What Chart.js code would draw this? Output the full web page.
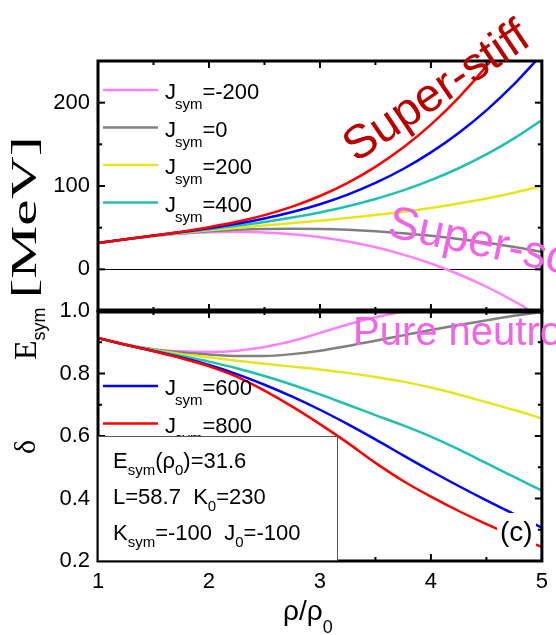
<!DOCTYPE html>
<html>
<head>
<meta charset="utf-8">
<script src="https://cdn.jsdelivr.net/npm/chart.js@4.4.0/dist/chart.umd.min.js"></script>
<style>
  html, body { margin: 0; padding: 0; background: #fff; }
</style>
</head>
<body>
<canvas id="chart" width="556" height="635"></canvas>
<script>
const SANS = '"Liberation Sans", Arial, sans-serif';
const SERIF = '"Liberation Serif", "Times New Roman", serif';

// density in units of rho_0
const rho = [1, 1.25, 1.5, 1.75, 2, 2.25, 2.5, 2.75, 3, 3.25, 3.5, 3.75, 4, 4.25, 4.5, 4.75, 5];

const jsym = [-200, 0, 200, 400, 600, 800];
const lineColors = ['#ff80ff', '#808080', '#e6e61e', '#20c0b0', '#0000ff', '#ff0000'];

// symmetry energy [MeV]
const esymJm200 = [31.6, 36.1, 39.8, 42.6, 44.4, 45.0, 44.3, 42.2, 38.6, 33.4, 26.5, 17.7, 7.0, -5.9, -20.9, -38.3, -58.0];
const esymJ0    = [31.6, 36.1, 40.0, 43.2, 45.6, 47.4, 48.5, 48.8, 48.5, 47.5, 45.8, 43.4, 40.3, 36.5, 32.0, 26.9, 21.0];
const esymJ200  = [31.6, 36.2, 40.1, 43.7, 46.9, 49.8, 52.6, 55.5, 58.4, 61.6, 65.1, 69.1, 73.6, 78.9, 85.0, 92.0, 100.0];
const esymJ400  = [31.6, 36.2, 40.3, 44.2, 48.1, 52.2, 56.8, 62.1, 68.3, 75.6, 84.4, 94.7, 107.0, 121.3, 137.9, 157.1, 179.0];
const esymJ600  = [31.6, 36.2, 40.5, 44.7, 49.3, 54.6, 61.0, 68.7, 78.1, 89.7, 103.7, 120.4, 140.3, 163.6, 190.8, 222.2, 258.0];
const esymJ800  = [31.6, 36.2, 40.6, 45.2, 50.6, 57.0, 65.1, 75.3, 88.0, 103.8, 123.0, 146.1, 173.6, 206.0, 243.8, 287.3, 337.0];

// isospin asymmetry delta
const deltaJm200 = [0.914, 0.893, 0.878, 0.871, 0.869, 0.873, 0.885, 0.904, 0.930, 0.957, 0.980, 0.997, 1.0, 1.0, 1.0, 1.0, 1.0];
const deltaJ0    = [0.914, 0.893, 0.877, 0.867, 0.861, 0.856, 0.856, 0.862, 0.873, 0.888, 0.905, 0.922, 0.939, 0.955, 0.970, 0.985, 0.997];
const deltaJ200  = [0.914, 0.892, 0.875, 0.862, 0.852, 0.841, 0.831, 0.822, 0.813, 0.802, 0.789, 0.774, 0.755, 0.733, 0.708, 0.683, 0.656];
const deltaJ400  = [0.914, 0.892, 0.874, 0.856, 0.838, 0.817, 0.792, 0.764, 0.733, 0.700, 0.667, 0.634, 0.598, 0.557, 0.513, 0.469, 0.425];
const deltaJ600  = [0.914, 0.892, 0.872, 0.851, 0.827, 0.798, 0.764, 0.726, 0.684, 0.638, 0.589, 0.538, 0.488, 0.440, 0.394, 0.350, 0.307];
const deltaJ800  = [0.914, 0.892, 0.871, 0.849, 0.823, 0.790, 0.745, 0.694, 0.638, 0.578, 0.514, 0.456, 0.406, 0.360, 0.318, 0.280, 0.245];

const esymSets = [esymJm200, esymJ0, esymJ200, esymJ400, esymJ600, esymJ800];
const deltaSets = [deltaJm200, deltaJ0, deltaJ200, deltaJ400, deltaJ600, deltaJ800];

function series(vals) {
  return rho.map((r, i) => ({x: r, y: vals[i]}));
}

function curve(vals, k, axis) {
  return {
    label: 'Jsym=' + jsym[k],
    data: series(vals),
    yAxisID: axis,
    borderColor: lineColors[k],
    borderWidth: 2.5,
    pointRadius: 0,
    cubicInterpolationMode: 'monotone',
    fill: false,
    order: jsym.length - k   // higher J drawn on top
  };
}

const datasets = [];
esymSets.forEach((v, k) => datasets.push(curve(v, k, 'yE')));
deltaSets.forEach((v, k) => datasets.push(curve(v, k, 'yD')));

// text with subscripts: parts = [text, font, dy]
function runText(ctx, parts, x, y) {
  let cx = x;
  for (const [t, f, dy] of parts) {
    ctx.font = f;
    ctx.fillText(t, cx, y + (dy || 0));
    cx += ctx.measureText(t).width;
  }
  return cx;
}

function seg(ctx, x1, y1, x2, y2) {
  ctx.beginPath();
  ctx.moveTo(x1, y1);
  ctx.lineTo(x2, y2);
  ctx.stroke();
}

const F22 = '22px ' + SANS;
const F15 = '15px ' + SANS;

const decor = {
  id: 'decor',
  afterDatasetsDraw(chart) {
    const {ctx, scales: {x, yE, yD}} = chart;
    ctx.save();
    ctx.strokeStyle = '#000';

    // panel frames
    ctx.lineWidth = 3;
    for (const s of [yE, yD]) {
      ctx.strokeRect(x.left, s.top, x.right - x.left, s.bottom - s.top);
    }
    ctx.lineWidth = 5;
    seg(ctx, x.left - 1, yD.top, x.right + 1, yD.top);

    // inward tick marks
    ctx.lineWidth = 2;
    for (const s of [yE, yD]) {
      for (const t of s.ticks) {
        const p = s.getPixelForValue(t.value);
        const len = t.label !== '' ? 7 : 4;
        seg(ctx, x.left, p, x.left + len, p);
        seg(ctx, x.right, p, x.right - len, p);
      }
      for (const t of x.ticks) {
        const p = x.getPixelForValue(t.value);
        const len = t.label !== '' ? 7 : 4;
        seg(ctx, p, s.top, p, s.top + len);
        seg(ctx, p, s.bottom, p, s.bottom - len);
      }
    }
    ctx.restore();
  },
  afterDraw(chart) {
    const {ctx, chartArea, scales: {yE, yD}} = chart;
    const L = chartArea.left;
    ctx.save();
    ctx.fillStyle = '#000';
    ctx.textBaseline = 'alphabetic';
    ctx.textAlign = 'left';

    // legends
    const legendRow = (k, ly) => {
      ctx.strokeStyle = lineColors[k];
      ctx.lineWidth = 2.5;
      seg(ctx, L + 5, ly, L + 60, ly);
      ctx.fillStyle = '#000';
      const cx = runText(ctx, [['J', F22, 0]], L + 67, ly + 9);
      ctx.font = F15;
      ctx.fillText('sym', cx - 1, ly + 19);
      ctx.font = F22;
      ctx.fillText('=' + jsym[k], cx + ctx.measureText('sym').width * 0.68 - 1, ly + 9);
    };
    [0, 1, 2, 3].forEach((k, i) => legendRow(k, yE.top + 29 + i * 37.5));
    [4, 5].forEach((k, i) => legendRow(k, yD.top + 75 + i * 37.5));

    // parameter box
    const bx = L, by = yD.getPixelForValue(0.6), bw = 239, bh = yD.bottom - by;
    ctx.fillStyle = '#fff';
    ctx.fillRect(bx, by, bw, bh);
    ctx.strokeStyle = '#555';
    ctx.lineWidth = 1;
    ctx.strokeRect(bx + 0.5, by + 0.5, bw, bh - 1);
    ctx.fillStyle = '#000';
    const F = '22px ' + SANS, S = '15px ' + SANS;
    runText(ctx, [['E', F], ['sym', S, 7], ['(ρ', F], ['0', S, 7], [')=31.6', F]], bx + 15, by + 32);
    runText(ctx, [['L=58.7  K', F], ['0', S, 7], ['=230', F]], bx + 15, by + 68);
    runText(ctx, [['K', F], ['sym', S, 7], ['=-100  J', F], ['0', S, 7], ['=-100', F]], bx + 15, by + 104);

    // panel tag
    ctx.fillStyle = '#fff';
    ctx.fillRect(497, 513, 39, 37);
    ctx.fillStyle = '#000';
    ctx.font = '28px ' + SANS;
    ctx.fillText('(c)', 500, 541);

    // axis titles: E_sym then a widened [MeV]
    ctx.save();
    ctx.translate(36, 360);
    ctx.rotate(-Math.PI / 2);
    const after = runText(ctx, [['E', '32px ' + SERIF], ['sym', '18px ' + SANS, 9]], 0, 0);
    ctx.font = '36px ' + SERIF;
    const unitW = ctx.measureText('[MeV]').width;
    ctx.translate(after + 9, 0);
    ctx.scale(162 / unitW, 1);
    ctx.fillText('[MeV]', 0, 0);
    ctx.restore();

    ctx.save();
    ctx.translate(35, 447);
    ctx.rotate(-Math.PI / 2);
    ctx.textAlign = 'center';
    ctx.font = '30px ' + SERIF;
    ctx.fillText('δ', 0, 0);
    ctx.restore();

    runText(ctx, [['ρ/ρ', '28px ' + SANS], ['0', '18px ' + SANS, 13]], 283, 620);

    // regime labels
    ctx.save();
    ctx.fillStyle = '#b80000';
    ctx.font = '47px ' + SANS;
    ctx.translate(356, 163);
    ctx.rotate(-34 * Math.PI / 180);
    ctx.fillText('Super-stiff', 0, 0);
    ctx.restore();

    ctx.save();
    ctx.fillStyle = '#f064e6';
    ctx.font = '46px ' + SANS;
    ctx.translate(386, 236);
    ctx.rotate(12 * Math.PI / 180);
    ctx.fillText('Super-soft', 0, 0);
    ctx.restore();

    ctx.fillStyle = '#f064e6';
    ctx.font = '40px ' + SANS;
    ctx.fillText('Pure neutron', 353, 345);

    ctx.restore();
  }
};

new Chart(document.getElementById('chart'), {
  type: 'line',
  data: {datasets: datasets},
  options: {
    responsive: false,
    animation: false,
    events: [],
    layout: {padding: {top: 61, right: 7, left: 0, bottom: 0}},
    plugins: {legend: {display: false}, tooltip: {enabled: false}},
    scales: {
      x: {
        type: 'linear',
        min: 1,
        max: 5,
        grid: {display: false, drawTicks: false},
        border: {display: false},
        ticks: {
          stepSize: 0.5,
          autoSkip: false,
          maxRotation: 0,
          padding: 8,
          color: '#000',
          font: {family: SANS, size: 22},
          callback: v => Number.isInteger(v) ? String(v) : ''
        },
        afterFit: s => { s.height = 74; }
      },
      yD: {
        type: 'linear',
        position: 'left',
        stack: 'panels',
        stackWeight: 1,
        min: 0.2,
        max: 1.0,
        grid: {display: false, drawTicks: false},
        border: {display: false},
        ticks: {
          stepSize: 0.1,
          autoSkip: false,
          padding: 8,
          color: '#000',
          font: {family: SANS, size: 22},
          callback: v => {
            const k = Math.round(v * 10);
            return k % 2 === 0 ? (k / 10).toFixed(1) : '';
          }
        },
        afterFit: s => { s.width = 98; }
      },
      yE: {
        type: 'linear',
        position: 'left',
        stack: 'panels',
        stackWeight: 1,
        min: -50,
        max: 250,
        grid: {
          drawTicks: false,
          lineWidth: 1,
          color: c => (c.tick && c.tick.value === 0) ? '#000' : 'rgba(0,0,0,0)'
        },
        border: {display: false},
        ticks: {
          stepSize: 50,
          autoSkip: false,
          padding: 8,
          color: '#000',
          font: {family: SANS, size: 22},
          callback: v => (v % 100 === 0 && v >= 0 && v <= 200) ? String(v) : ''
        },
        afterFit: s => { s.width = 98; }
      }
    }
  },
  plugins: [decor]
});
</script>
</body>
</html>
